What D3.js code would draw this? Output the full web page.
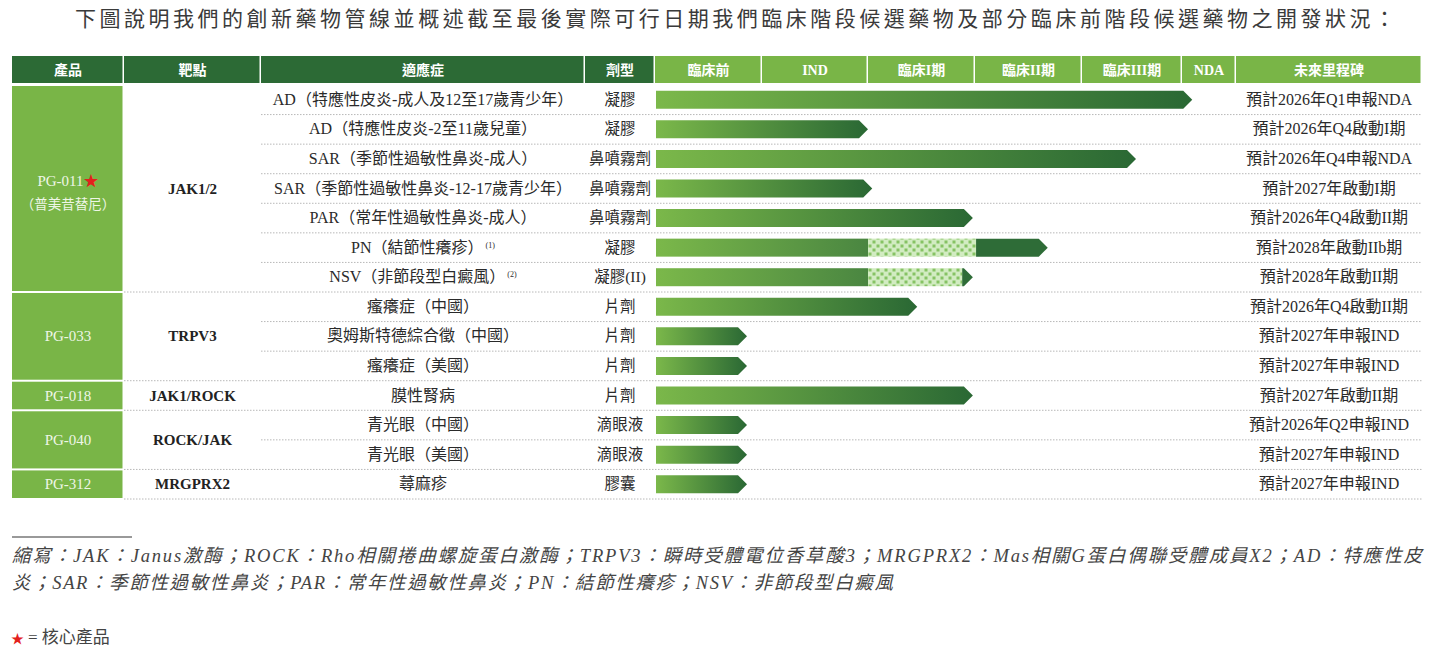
<!DOCTYPE html>
<html>
<head>
<meta charset="utf-8">
<script src="https://cdn.jsdelivr.net/npm/d3@7"></script>
<style>
  body { margin: 0; background: #fff; }
  svg { display: block; }
  text { font-family: "Liberation Serif", "Noto Sans CJK TC", serif; }
</style>
</head>
<body>
<div id="chart"></div>
<script>
// ---- data ----
const title = "下圖說明我們的創新藥物管線並概述截至最後實際可行日期我們臨床階段候選藥物及部分臨床前階段候選藥物之開發狀況：";

const headers = ["產品", "靶點", "適應症", "劑型", "臨床前", "IND", "臨床I期", "臨床II期", "臨床III期", "NDA", "未來里程碑"];

const products = ["PG-011", "PG-033", "PG-018", "PG-040", "PG-312"];
const productSub = ["（普美昔替尼）", "", "", "", ""];
const productCore = [true, false, false, false, false];
const productRows = [7, 3, 1, 2, 1];
const targets = ["JAK1/2", "TRPV3", "JAK1/ROCK", "ROCK/JAK", "MRGPRX2"];

const indications = [
  "AD（特應性皮炎-成人及12至17歲青少年）",
  "AD（特應性皮炎-2至11歲兒童）",
  "SAR（季節性過敏性鼻炎-成人）",
  "SAR（季節性過敏性鼻炎-12-17歲青少年）",
  "PAR（常年性過敏性鼻炎-成人）",
  "PN（結節性癢疹）",
  "NSV（非節段型白癜風）",
  "瘙癢症（中國）",
  "奧姆斯特德綜合徵（中國）",
  "瘙癢症（美國）",
  "膜性腎病",
  "青光眼（中國）",
  "青光眼（美國）",
  "蕁麻疹"
];
const notes = ["", "", "", "", "", "(1)", "(2)", "", "", "", "", "", "", ""];
const dosages = ["凝膠", "凝膠", "鼻噴霧劑", "鼻噴霧劑", "鼻噴霧劑", "凝膠", "凝膠(II)", "片劑", "片劑", "片劑", "片劑", "滴眼液", "滴眼液", "膠囊"];

// progress in stage units (0 = start of 臨床前, 1 = start of IND, ...), value = arrow tip
const progress = [5.19, 2.0, 4.54, 2.04, 2.98, 3.68, 2.98, 2.46, 0.86, 0.86, 2.98, 0.86, 0.86, 0.86];
// rows with a planned (checkered) stretch: solid part end and checkered part end
const solidEnd = [null, null, null, null, null, 2.0, 2.0, null, null, null, null, null, null, null];
const plannedEnd = [null, null, null, null, null, 3.01, 2.88, null, null, null, null, null, null, null];

const milestones = [
  "預計2026年Q1申報NDA", "預計2026年Q4啟動I期", "預計2026年Q4申報NDA", "預計2027年啟動I期",
  "預計2026年Q4啟動II期", "預計2028年啟動IIb期", "預計2028年啟動II期", "預計2026年Q4啟動II期",
  "預計2027年申報IND", "預計2027年申報IND", "預計2027年啟動II期", "預計2026年Q2申報IND",
  "預計2027年申報IND", "預計2027年申報IND"
];

const footLine1 = "縮寫：JAK：Janus激酶；ROCK：Rho相關捲曲螺旋蛋白激酶；TRPV3：瞬時受體電位香草酸3；MRGPRX2：Mas相關G蛋白偶聯受體成員X2；AD：特應性皮";
const footLine2 = "炎；SAR：季節性過敏性鼻炎；PAR：常年性過敏性鼻炎；PN：結節性癢疹；NSV：非節段型白癜風";

// ---- layout ----
const width = 1438, height = 654;
const colEdges = [12, 124, 261, 585, 655, 762, 868, 975, 1082, 1182, 1236, 1422];
const darkGreen = "#2c6a35", lightGreen = "#79b547";

const svg = d3.select("#chart").append("svg").attr("width", width).attr("height", height);

const defs = svg.append("defs");
const grad = defs.append("linearGradient").attr("id", "barGrad");
grad.append("stop").attr("offset", "0%").attr("stop-color", "#7bb84a");
grad.append("stop").attr("offset", "100%").attr("stop-color", "#2a6834");
const gradShort = defs.append("linearGradient").attr("id", "barGradShort");
gradShort.append("stop").attr("offset", "0%").attr("stop-color", "#7bb84a");
gradShort.append("stop").attr("offset", "100%").attr("stop-color", "#4a8641");
const pat = defs.append("pattern").attr("id", "checker")
  .attr("patternUnits", "userSpaceOnUse").attr("width", 8).attr("height", 8);
pat.append("rect").attr("width", 8).attr("height", 8).attr("fill", "#d2ecc2");
pat.append("rect").attr("x", 0.5).attr("y", 0.5).attr("width", 3).attr("height", 3).attr("fill", "#86c364");
pat.append("rect").attr("x", 4.5).attr("y", 4.5).attr("width", 3).attr("height", 3).attr("fill", "#86c364");

// title
svg.append("text")
  .attr("x", 75).attr("y", 26)
  .attr("textLength", 1320).attr("lengthAdjust", "spacing")
  .attr("font-size", 21).attr("fill", "#3a3a3a")
  .text(title);

// header
const headTop = 56, headH = 27;
const head = svg.append("g");
headers.forEach((h, i) => {
  const x0 = colEdges[i], x1 = colEdges[i + 1];
  head.append("rect")
    .attr("x", x0).attr("y", headTop).attr("width", x1 - x0 - 1.5).attr("height", headH)
    .attr("fill", i < 4 ? darkGreen : lightGreen);
  head.append("text")
    .attr("x", (x0 + x1) / 2).attr("y", headTop + headH / 2 + 5)
    .attr("text-anchor", "middle").attr("font-size", 14).attr("font-weight", "bold")
    .attr("fill", "#fff")
    .text(h);
});

// rows
const y = d3.scaleBand().domain(d3.range(indications.length)).range([85, 499]);
const xStage = d3.scaleLinear().domain(d3.range(7)).range(colEdges.slice(4, 11));

// group starts
const groupStart = [];
productRows.reduce((acc, n) => { groupStart.push(acc); return acc + n; }, 0);
const isGroupTop = d3.range(indications.length + 1).map(i => groupStart.includes(i) || i === indications.length);

// dotted separators
svg.append("g").selectAll("line")
  .data(d3.range(1, indications.length + 1))
  .join("line")
  .attr("x1", i => isGroupTop[i] ? colEdges[1] : colEdges[2])
  .attr("x2", colEdges[11])
  .attr("y1", i => y(i) !== undefined ? y(i) : y(i - 1) + y.bandwidth())
  .attr("y2", i => y(i) !== undefined ? y(i) : y(i - 1) + y.bandwidth())
  .attr("stroke", "#b8b8b8").attr("stroke-width", 1).attr("stroke-dasharray", "1.5,1.5");

// product cells + targets
const prodG = svg.append("g");
products.forEach((p, k) => {
  const r0 = groupStart[k], r1 = r0 + productRows[k] - 1;
  const top = y(r0) + 1, bottom = y(r1) + y.bandwidth() - 1;
  const cy = (top + bottom) / 2;
  prodG.append("rect")
    .attr("x", colEdges[0]).attr("y", top)
    .attr("width", colEdges[1] - colEdges[0] - 1.5).attr("height", bottom - top)
    .attr("fill", lightGreen);
  const t = prodG.append("text")
    .attr("x", (colEdges[0] + colEdges[1]) / 2)
    .attr("y", (productSub[k] ? cy - 8 : cy) + 5)
    .attr("text-anchor", "middle").attr("font-size", 15).attr("fill", "#eef6e6");
  t.append("tspan").text(p);
  if (productCore[k]) t.append("tspan").attr("fill", "#e3211c").text("★");
  if (productSub[k]) {
    prodG.append("text")
      .attr("x", (colEdges[0] + colEdges[1]) / 2).attr("y", cy + 20)
      .attr("text-anchor", "middle").attr("font-size", 13.5).attr("fill", "#eef6e6")
      .text(productSub[k]);
  }
  prodG.append("text")
    .attr("x", (colEdges[1] + colEdges[2]) / 2).attr("y", cy + 5)
    .attr("text-anchor", "middle").attr("font-size", 15).attr("fill", "#222")
    .attr("font-weight", "bold")
    .text(targets[k]);
});

// indication, dosage, milestone text
const rowsG = svg.append("g");
indications.forEach((ind, i) => {
  const cy = y(i) + y.bandwidth() / 2;
  const t = rowsG.append("text")
    .attr("x", (colEdges[2] + colEdges[3]) / 2).attr("y", cy + 5)
    .attr("text-anchor", "middle").attr("font-size", 16).attr("fill", "#2a2a2a")
    .text(ind);
  if (notes[i]) t.append("tspan").attr("font-size", 8).attr("dy", -5).text(" " + notes[i]);
  rowsG.append("text")
    .attr("x", (colEdges[3] + colEdges[4]) / 2).attr("y", cy + 5)
    .attr("text-anchor", "middle").attr("font-size", 15.5).attr("fill", "#2a2a2a")
    .text(dosages[i]);
  rowsG.append("text")
    .attr("x", (colEdges[10] + colEdges[11]) / 2).attr("y", cy + 5)
    .attr("text-anchor", "middle").attr("font-size", 16).attr("fill", "#2a2a2a")
    .text(milestones[i]);
});

// bars
const barH = 18, tip = 9;
const barsG = svg.append("g");
function arrowPath(x0, xt, cy) {
  const xb = Math.max(x0, xt - tip);
  return `M${x0},${cy - barH / 2}H${xb}L${xt},${cy}L${xb},${cy + barH / 2}H${x0}Z`;
}
progress.forEach((v, i) => {
  const cy = y(i) + y.bandwidth() / 2;
  const x0 = xStage(0) + 1;
  if (solidEnd[i] === null) {
    barsG.append("path").attr("d", arrowPath(x0, xStage(v), cy)).attr("fill", "url(#barGrad)");
  } else {
    const xs = xStage(solidEnd[i]), xp = xStage(plannedEnd[i]);
    barsG.append("rect").attr("x", x0).attr("y", cy - barH / 2)
      .attr("width", xs - x0).attr("height", barH).attr("fill", "url(#barGradShort)");
    barsG.append("rect").attr("x", xs).attr("y", cy - barH / 2)
      .attr("width", xp - xs).attr("height", barH).attr("fill", "url(#checker)");
    barsG.append("path").attr("d", arrowPath(xp, xStage(v), cy)).attr("fill", "#2e6c37");
  }
});

// footnotes
svg.append("line").attr("x1", 12).attr("x2", 132).attr("y1", 537).attr("y2", 537)
  .attr("stroke", "#777").attr("stroke-width", 1.5);
svg.append("text").attr("x", 12).attr("y", 562)
  .attr("textLength", 1410).attr("lengthAdjust", "spacing")
  .attr("font-size", 18.5).attr("font-style", "italic").attr("fill", "#444")
  .text(footLine1);
svg.append("text").attr("x", 12).attr("y", 589)
  .attr("textLength", 881).attr("lengthAdjust", "spacing")
  .attr("font-size", 18.5).attr("font-style", "italic").attr("fill", "#444")
  .text(footLine2);
const star = svg.append("text").attr("x", 11).attr("y", 643).attr("font-size", 17).attr("fill", "#444");
star.append("tspan").attr("fill", "#e3211c").attr("font-size", 13).text("★");
star.append("tspan").attr("dx", 4).text("= 核心產品");
</script>
</body>
</html>
